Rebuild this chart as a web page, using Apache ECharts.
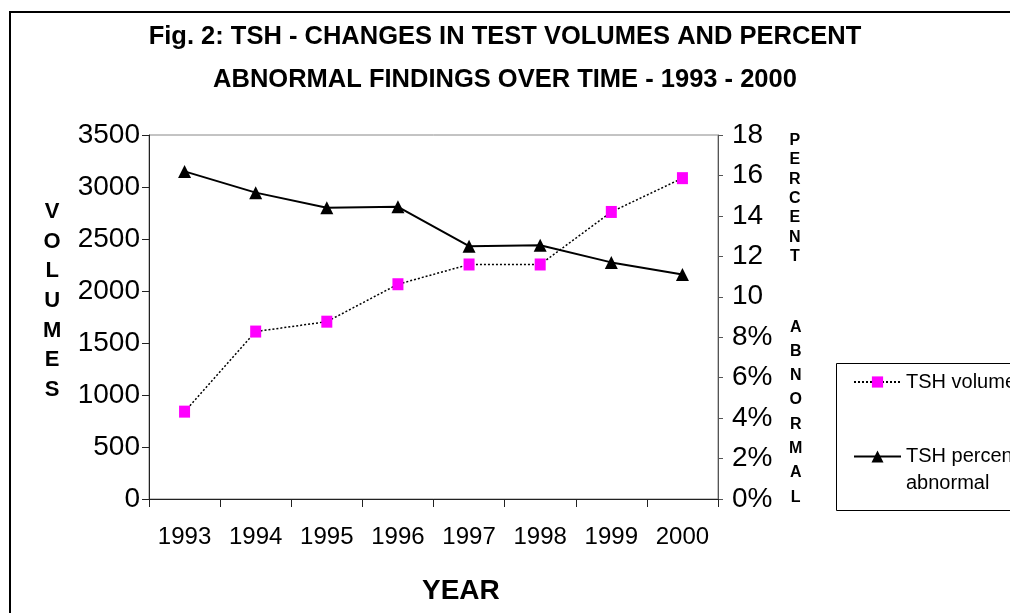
<!DOCTYPE html>
<html>
<head>
<meta charset="utf-8">
<title>TSH - test volumes and percent abnormal</title>
<script src="https://cdn.jsdelivr.net/npm/echarts@6/dist/echarts.min.js"></script>
<style>
  html, body { margin: 0; padding: 0; background: #fff; }
  #chart { width: 1010px; height: 613px; }
</style>
</head>
<body>
<div id="chart"></div>
<script>
  // values
  var years = ['1993', '1994', '1995', '1996', '1997', '1998', '1999', '2000']
  var tshVolumes = [840, 1610, 1705, 2065, 2255, 2255, 2760, 3085]
  var tshPercentAbnormal = [16.2, 15.15, 14.4, 14.45, 12.5, 12.55, 11.7, 11.1]
  var percentTickLabels = ['0%', '2%', '4%', '6%', '8%', '10', '12', '14', '16', '18']

  var FONT = '"Liberation Sans", Arial, sans-serif'

  var chart = echarts.init(document.getElementById('chart'), null, {renderer: 'canvas'})

  chart.setOption({
    backgroundColor: '#fff',
    animation: false,
    textStyle: {fontFamily: FONT},
    title: {
      text: 'Fig. 2: TSH - CHANGES IN TEST VOLUMES AND PERCENT\nABNORMAL FINDINGS OVER TIME - 1993 - 2000',
      left: 'center',
      top: 10,
      textStyle: {
        fontFamily: FONT,
        fontSize: 25.5,
        fontWeight: 'bold',
        lineHeight: 43,
        color: '#000'
      }
    },
    grid: {
      left: 149,
      right: 292,
      top: 135,
      bottom: 114,
      show: true,
      borderColor: '#888',
      borderWidth: 1
    },
    legend: [
      {
        data: ['TSH volumes'],
        orient: 'vertical',
        left: 853,
        top: 372,
        padding: 0,
        itemWidth: 47,
        itemHeight: 14,
        textStyle: {fontFamily: FONT, fontSize: 20, color: '#000'}
      },
      {
        data: ['TSH percent abnormal'],
        orient: 'vertical',
        left: 853,
        top: 416,
        padding: 0,
        itemWidth: 47,
        itemHeight: 15,
        // empty first line so that "TSH percent" sits level with the icon
        formatter: function () {
          return '\nTSH percent\nabnormal'
        },
        textStyle: {
          fontFamily: FONT,
          fontSize: 20,
          lineHeight: 27,
          color: '#000'
        }
      }
    ],
    xAxis: {
      type: 'category',
      data: years,
      position: 'bottom',
      boundaryGap: true,
      axisLine: {lineStyle: {color: '#222', width: 1}},
      axisTick: {show: true, length: 8, lineStyle: {color: '#222'}},
      axisLabel: {fontFamily: FONT, fontSize: 24, color: '#000', margin: 26},
      splitLine: {show: false}
    },
    yAxis: [
      {
        type: 'value',
        position: 'left',
        min: 0,
        max: 3500,
        interval: 500,
        axisLine: {show: true, lineStyle: {color: '#222', width: 1}},
        axisTick: {show: true, length: 7, lineStyle: {color: '#222'}},
        axisLabel: {
          fontFamily: FONT,
          fontSize: 28,
          color: '#000',
          margin: 9,
          formatter: function (v) {
            return String(v)
          }
        },
        splitLine: {show: false}
      },
      {
        type: 'value',
        position: 'right',
        min: 0,
        max: 18,
        interval: 2,
        axisLine: {show: true, lineStyle: {color: '#555', width: 1}},
        axisTick: {show: true, length: 5, lineStyle: {color: '#555'}},
        axisLabel: {
          fontFamily: FONT,
          fontSize: 28,
          color: '#000',
          margin: 14,
          formatter: function (v) {
            return percentTickLabels[Math.round(v / 2)]
          }
        },
        splitLine: {show: false}
      }
    ],
    graphic: [
      // outer frame of the figure, runs off the right and bottom edge
      {
        type: 'rect',
        z: -10,
        shape: {x: 10, y: 12, width: 1030, height: 640},
        style: {fill: null, stroke: '#000', lineWidth: 2}
      },
      // legend frame, also cut off at the right
      {
        type: 'rect',
        z: -5,
        shape: {x: 836.5, y: 363.5, width: 220, height: 147},
        style: {fill: '#fff', stroke: '#000', lineWidth: 1}
      },
      {
        type: 'text',
        left: 43,
        top: 197,
        style: {
          text: 'V\nO\nL\nU\nM\nE\nS',
          font: 'bold 22px ' + FONT,
          lineHeight: 29.7,
          textAlign: 'center',
          fill: '#000'
        }
      },
      {
        type: 'text',
        left: 789,
        top: 131,
        style: {
          text: 'P\nE\nR\nC\nE\nN\nT',
          font: 'bold 16px ' + FONT,
          lineHeight: 19.3,
          textAlign: 'center',
          fill: '#000'
        }
      },
      {
        type: 'text',
        left: 789,
        top: 315,
        style: {
          text: 'A\nB\nN\nO\nR\nM\nA\nL',
          font: 'bold 16px ' + FONT,
          lineHeight: 24.3,
          textAlign: 'center',
          fill: '#000'
        }
      },
      {
        type: 'text',
        left: 422,
        top: 577,
        style: {
          text: 'YEAR',
          font: 'bold 28px ' + FONT,
          fill: '#000'
        }
      }
    ],
    series: [
      {
        name: 'TSH volumes',
        type: 'line',
        yAxisIndex: 0,
        data: tshVolumes,
        symbol: 'rect',
        symbolSize: [11, 12],
        itemStyle: {color: '#ff00ff'},
        lineStyle: {color: '#000', width: 1.5, type: [2, 2]},
        z: 3
      },
      {
        name: 'TSH percent abnormal',
        type: 'line',
        yAxisIndex: 1,
        data: tshPercentAbnormal,
        symbol: 'triangle',
        symbolSize: 13,
        itemStyle: {color: '#000'},
        lineStyle: {color: '#000', width: 2},
        z: 2
      }
    ]
  })
</script>
</body>
</html>
